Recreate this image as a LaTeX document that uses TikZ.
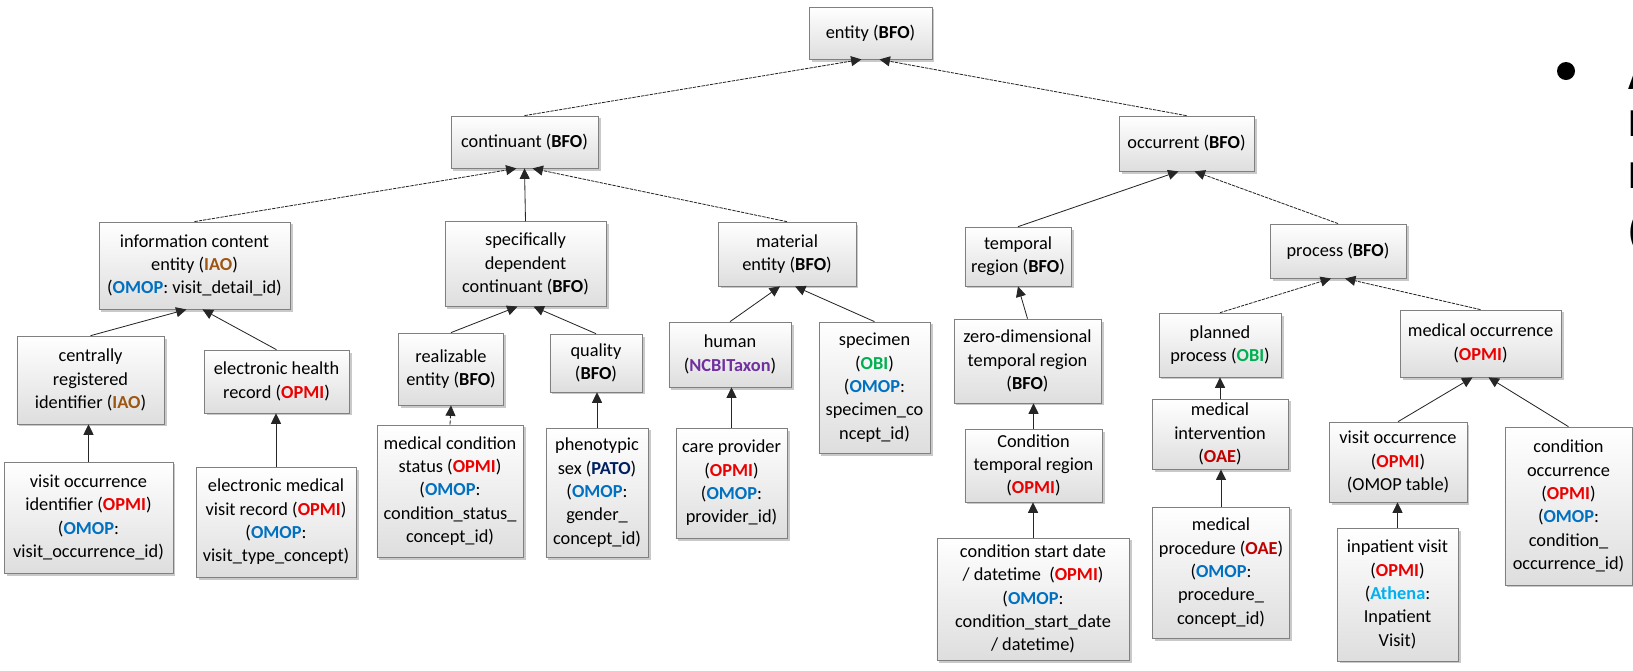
\documentclass[tikz,border=0pt]{standalone}
\usepackage{fontspec}
\setmainfont{Carlito}
\usetikzlibrary{arrows.meta,shadows,calc}
\definecolor{cIAO}{RGB}{156,87,20}
\definecolor{cOMOP}{RGB}{0,112,192}
\definecolor{cOPMI}{RGB}{235,0,0}
\definecolor{cOBI}{RGB}{0,176,80}
\definecolor{cNCBI}{RGB}{112,48,160}
\definecolor{cPATO}{RGB}{0,32,96}
\definecolor{cOAE}{RGB}{192,0,0}
\definecolor{cAthena}{RGB}{0,176,240}
\newcommand{\oBFO}{\textbf{BFO}}
\newcommand{\oIAO}{\textcolor{cIAO}{\textbf{IAO}}}
\newcommand{\oOMOP}{\textcolor{cOMOP}{\textbf{OMOP}}}
\newcommand{\oOPMI}{\textcolor{cOPMI}{\textbf{OPMI}}}
\newcommand{\oOBI}{\textcolor{cOBI}{\textbf{OBI}}}
\newcommand{\oNCBI}{\textcolor{cNCBI}{\textbf{NCBITaxon}}}
\newcommand{\oPATO}{\textcolor{cPATO}{\textbf{PATO}}}
\newcommand{\oOAE}{\textcolor{cOAE}{\textbf{OAE}}}
\newcommand{\oAthena}{\textcolor{cAthena}{\textbf{Athena}}}
\begin{document}
\begin{tikzpicture}[x=0.48pt,y=-0.48pt,
  box/.style={draw=black!50, line width=0.35pt, top color=white, bottom color=black!13,
    align=center, inner xsep=3pt, inner ysep=2pt,
    font=\fontsize{8.8}{11.2}\selectfont,
    drop shadow={shadow xshift=1.2pt, shadow yshift=-1.2pt, opacity=0.3, fill=black!70}},
  arr/.style={-{Triangle[length=5pt,width=4.8pt]}, line width=0.4pt, draw=black!85},
  fine/.style={dash pattern=on 1.6pt off 0.5pt},
  slide/.style={anchor=west, inner sep=0pt, font=\fontsize{19}{19}\selectfont\bfseries},
]
\useasboundingbox (0,0) rectangle (1633,670);

% level 0
\node[box,minimum width=59pt,minimum height=25pt] (entity) at (870.5,33) {entity (\oBFO)};
% level 1
\node[box,minimum width=70.6pt,minimum height=25pt] (cont) at (524.5,142) {continuant (\oBFO)};
\node[box,minimum width=64.8pt,minimum height=26.4pt] (occ) at (1186.5,143.5) {occurrent (\oBFO)};
% level 2
\node[box,minimum width=91.7pt,minimum height=41.8pt] (ice) at (194.5,265.5) {information content\\entity (\oIAO)\\(\oOMOP: visit\_detail\_id)};
\node[box,minimum width=77.3pt,minimum height=40.5pt] (sdc) at (525.5,264) {specifically\\dependent\\continuant (\oBFO)};
\node[box,minimum width=66.2pt,minimum height=30.7pt] (mat) at (787,254) {material\\entity (\oBFO)};
\node[box,minimum width=46pt,minimum height=28.3pt] (treg) at (1018,256.5) {temporal\\region (\oBFO)};
\node[box,minimum width=65.3pt,minimum height=26pt] (proc) at (1338,251) {process (\oBFO)};
% level 3
\node[box,minimum width=70.6pt,minimum height=42.2pt] (cri) at (90.5,380) {centrally\\registered\\identifier (\oIAO)};
\node[box,minimum width=69.6pt,minimum height=30.2pt] (ehr) at (276.5,381.5) {electronic health\\record (\oOPMI)};
\node[box,minimum width=50.4pt,minimum height=34.6pt] (real) at (451,369) {realizable\\entity (\oBFO)};
\node[box,minimum width=44.2pt,minimum height=27.8pt] (qual) at (596,363) {quality\\(\oBFO)};
\node[box,minimum width=58.6pt,minimum height=31.2pt] (human) at (730,354.5) {human\\(\oNCBI)};
\node[box,minimum width=53.3pt,minimum height=62.9pt] (spec) at (874.5,387.5) {specimen\\(\oOBI)\\(\oOMOP:\\specimen\_co\\ncept\_id)};
\node[box,minimum width=70.6pt,minimum height=40.3pt] (zero) at (1027.5,361) {zero-dimensional\\temporal region\\(\oBFO)};
\node[box,minimum width=58.6pt,minimum height=30.7pt] (plan) at (1220,345) {planned\\process (\oOBI)};
\node[box,minimum width=77.3pt,minimum height=32.2pt] (medocc) at (1480.5,343.5) {medical occurrence\\(\oOPMI)};
% level 4
\node[box,minimum width=81.1pt,minimum height=53.3pt] (voi) at (88.5,517.5) {visit occurrence\\identifier (\oOPMI)\\(\oOMOP:\\visit\_occurrence\_id)};
\node[box,minimum width=76.8pt,minimum height=52.8pt] (emvr) at (276,522) {electronic medical\\visit record (\oOPMI)\\(\oOMOP:\\visit\_type\_concept)};
\node[box,minimum width=70.1pt,minimum height=63.4pt] (mcs) at (450,491) {medical condition\\status (\oOPMI)\\(\oOMOP:\\condition\_status\_\\concept\_id)};
\node[box,minimum width=49pt,minimum height=62pt] (pheno) at (597,492.5) {phenotypic\\sex (\oPATO)\\(\oOMOP:\\gender\_\\concept\_id)};
\node[box,minimum width=53.3pt,minimum height=52.8pt] (care) at (731.5,483) {care provider\\(\oOPMI)\\(\oOMOP:\\provider\_id)};
\node[box,minimum width=65.8pt,minimum height=35pt] (ctr) at (1033.5,465.5) {Condition\\temporal region\\(\oOPMI)};
\node[box,minimum width=65.3pt,minimum height=33pt] (mint) at (1220,434) {medical\\intervention\\(\oOAE)};
\node[box,minimum width=66.2pt,minimum height=38.4pt] (visit) at (1398,462) {visit occurrence\\(\oOPMI)\\(OMOP table)};
\node[box,minimum width=61pt,minimum height=75.8pt] (cocc) at (1568.5,506) {condition\\occurrence\\(\oOPMI)\\(\oOMOP:\\condition\_\\occurrence\_id)};
% level 5
\node[box,minimum width=92.2pt,minimum height=58.6pt] (csd) at (1033,599) {condition start date\\/ datetime~~(\oOPMI)\\(\oOMOP:\\condition\_start\_date\\/ datetime)};
\node[box,minimum width=65.3pt,minimum height=62.9pt] (mproc) at (1221,572.5) {medical\\procedure (\oOAE)\\(\oOMOP:\\procedure\_\\concept\_id)};
\node[box,minimum width=58.1pt,minimum height=63.8pt] (inp) at (1397.5,594.5) {inpatient visit\\(\oOPMI)\\(\oAthena:\\Inpatient\\Visit)};

% edges (child -> parent)
\draw[arr,fine] (cont.north) -- ($(entity.south)+(-9,0)$);
\draw[arr,fine] (occ.north) -- ($(entity.south)+(9,0)$);
\draw[arr,fine] (ice.north) -- ($(cont.south)+(-8,0)$);
\draw[arr] (sdc.north) -- (cont.south);
\draw[arr,fine] (mat.north) -- ($(cont.south)+(8,0)$);
\draw[arr] (treg.north) -- ($(occ.south)+(-8,0)$);
\draw[arr,fine] (proc.north) -- ($(occ.south)+(8,0)$);
\draw[arr] (cri.north) -- ($(ice.south)+(-8,0)$);
\draw[arr] (ehr.north) -- ($(ice.south)+(8,0)$);
\draw[arr] (real.north) -- ($(sdc.south)+(-8,0)$);
\draw[arr] (qual.north) -- ($(sdc.south)+(8,0)$);
\draw[arr] (human.north) -- ($(mat.south)+(-7,0)$);
\draw[arr] (spec.north) -- ($(mat.south)+(8,0)$);
\draw[arr] (zero.north) -- (treg.south);
\draw[arr,fine] (plan.north) -- ($(proc.south)+(-7,0)$);
\draw[arr,fine] (medocc.north) -- ($(proc.south)+(7,0)$);
\draw[arr] (voi.north) -- (voi.north |- cri.south);
\draw[arr] (emvr.north) -- (emvr.north |- ehr.south);
\draw[arr,dash pattern=on 2pt off 1pt] (mcs.north) -- (real.south);
\draw[arr] (pheno.north) -- (pheno.north |- qual.south);
\draw[arr] (care.north) -- (care.north |- human.south);
\draw[arr] (ctr.north) -- (ctr.north |- zero.south);
\draw[arr] (csd.north) -- (csd.north |- ctr.south);
\draw[arr] (mint.north) -- (mint.north |- plan.south);
\draw[arr] (mproc.north) -- (mproc.north |- mint.south);
\draw[arr] (visit.north) -- ($(medocc.south)+(-8,0)$);
\draw[arr] (cocc.north) -- ($(medocc.south)+(8,0)$);
\draw[arr] (inp.north) -- (inp.north |- visit.south);

% slide text cut by the right edge
\begin{scope}
\clip (1500,0) rectangle (1633,670);
\fill (1566,71) circle (9);
\node[slide] (t1) at (1628,77) {A};
\node[slide] (t2) at (1628,124) {I};
\node[slide] (t3) at (1628,176) {I};
\node[slide] (t4) at (1628,233) {(};
\end{scope}
\end{tikzpicture}
\end{document}
